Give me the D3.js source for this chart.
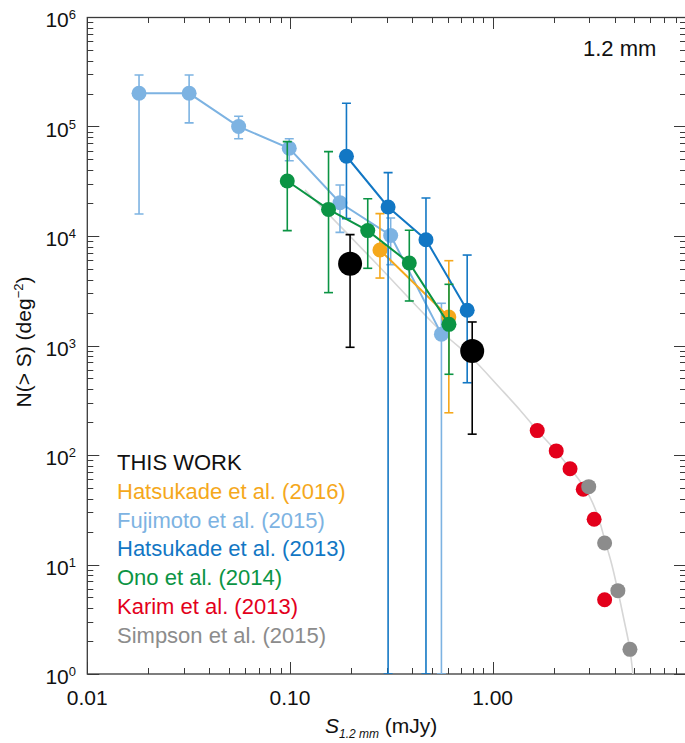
<!DOCTYPE html>
<html>
<head>
<meta charset="utf-8">
<script src="https://cdn.jsdelivr.net/npm/d3@7"></script>
<style>
  html, body { margin: 0; padding: 0; background: #fff; }
  svg { display: block; font-family: "Liberation Sans", Arial, sans-serif; }
</style>
</head>
<body>
<svg id="chart" width="685" height="743"></svg>
<script>
// ---------------- data ----------------
const xTickValues = [0.01, 0.1, 1];
const xTickLabels = ["0.01", "0.10", "1.00"];
const yTickExponents = [0, 1, 2, 3, 4, 5, 6];

const thisWorkS  = [0.198, 0.793];
const thisWorkN  = [5580, 891];
const thisWorkLo = [963, 155];
const thisWorkHi = [10300, 1640];

const hat16S  = [0.278, 0.608];
const hat16N  = [7450, 1820];
const hat16Lo = [4130, 243];
const hat16Hi = [16000, 5950];

const fujS  = [0.018, 0.0318, 0.0558, 0.0992, 0.1765, 0.314, 0.559];
const fujN  = [201000, 201000, 100000, 63200, 20100, 10100, 1270];
const fujLo = [15900, 108000, 77400, 48700, 10800, 5470, 0];
const fujHi = [295000, 295000, 124000, 77400, 29200, 14600, 2430];

const hat13S  = [0.190, 0.305, 0.469, 0.749];
const hat13N  = [53500, 18400, 9250, 2100];
const hat13Lo = [14400, 0, 0, 457];
const hat13Hi = [163000, 37900, 22200, 6700];

const onoS  = [0.097, 0.155, 0.242, 0.388, 0.609];
const onoN  = [31800, 17500, 11200, 5670, 1560];
const onoLo = [11200, 3040, 5070, 2550, 546];
const onoHi = [72700, 58900, 21900, 11300, 3620];

const karimS = [1.66, 2.06, 2.41, 2.80, 3.17, 3.57];
const karimN = [167, 109, 75, 48.6, 25.9, 4.77];

const simpsonS = [2.98, 3.57, 4.15, 4.76];
const simpsonN = [51.4, 15.7, 5.77, 1.68];

const fitS = [0.1186, 0.2567, 0.5687, 0.7904, 1.087, 1.364, 1.654, 2.053, 2.406, 2.696, 3.02, 3.308, 3.58, 3.878, 4.152, 4.44, 4.755, 4.95];
const fitN = [26300, 6040, 1300, 769, 409, 258, 169, 109, 76, 57.9, 41.3, 27.7, 16.7, 9.9, 5.73, 3.18, 1.69, 0.9];

const legendLabels = ["THIS WORK", "Hatsukade et al. (2016)", "Fujimoto et al. (2015)",
  "Hatsukade et al. (2013)", "Ono et al. (2014)", "Karim et al. (2013)", "Simpson et al. (2015)"];
const legendColors = ["#111111", "#f5a81c", "#7db3e2", "#1277c4", "#0b9444", "#e3001b", "#8c8c8c"];

// ---------------- layout ----------------
const svg = d3.select("#chart");
const pLeft = 87.3, pRight = 686, pTop = 17, pBottom = 674;

const x = d3.scaleLog().domain([0.01, 9]).range([pLeft, pRight]);
const y = d3.scaleLog().domain([1, 1e6]).range([pBottom, pTop]);

const defs = svg.append("defs");
defs.append("clipPath").attr("id", "clip")
  .append("rect").attr("x", pLeft).attr("y", pTop).attr("width", pRight - pLeft).attr("height", pBottom - pTop);

const axisColor = "#3a3a3a";

// ---------------- axes (ticks inward on four sides) ----------------
const xMinor = [];
for (let e = -2; e <= 0; e++) for (let m = 1; m <= 9; m++) {
  const v = m * Math.pow(10, e);
  if (v >= 0.01 && v <= 9.0001) xMinor.push(v);
}
const yMinor = [];
for (let e = 0; e < 6; e++) for (let m = 1; m <= 9; m++) yMinor.push(m * Math.pow(10, e));
yMinor.push(1e6);

const tickG = svg.append("g").attr("stroke", axisColor).attr("stroke-width", 1);
const isMajor = v => Math.abs(Math.log10(v) - Math.round(Math.log10(v))) < 1e-9;

xMinor.forEach(v => {
  const len = isMajor(v) ? 12 : 6;
  const px = Math.round(x(v)) + 0.5;
  tickG.append("line").attr("x1", px).attr("x2", px).attr("y1", pBottom).attr("y2", pBottom - len);
  tickG.append("line").attr("x1", px).attr("x2", px).attr("y1", pTop).attr("y2", pTop + len);
});
yMinor.forEach(v => {
  const len = isMajor(v) ? 12 : 6;
  const py = Math.round(y(v)) + 0.5;
  tickG.append("line").attr("x1", pLeft).attr("x2", pLeft + len).attr("y1", py).attr("y2", py);
  tickG.append("line").attr("x1", pRight).attr("x2", pRight - len).attr("y1", py).attr("y2", py);
});

// frame
svg.append("rect").attr("x", pLeft).attr("y", pTop + 0.5).attr("width", pRight - pLeft).attr("height", pBottom - pTop - 0.5)
  .attr("fill", "none").attr("stroke", axisColor).attr("stroke-width", 1.3);

// x tick labels
xTickValues.forEach((v, i) => {
  svg.append("text").attr("x", x(v)).attr("y", pBottom + 31)
    .attr("text-anchor", "middle").attr("font-size", 21).attr("fill", "#111")
    .text(xTickLabels[i]);
});
// y tick labels (10^n)
yTickExponents.forEach(e => {
  const t = svg.append("text").attr("x", 76).attr("y", y(Math.pow(10, e)) + 10)
    .attr("text-anchor", "end").attr("font-size", 21).attr("fill", "#111");
  t.append("tspan").text("10");
  t.append("tspan").attr("font-size", 13).attr("dy", -8).text(String(e));
});

// axis titles
const xt = svg.append("text").attr("x", 325).attr("y", 733).attr("font-size", 21).attr("fill", "#111");
xt.append("tspan").attr("font-style", "italic").text("S");
xt.append("tspan").attr("font-style", "italic").attr("font-size", 12).attr("dy", 5).text("1.2 mm");
xt.append("tspan").attr("dy", -5).text(" (mJy)");

const yt = svg.append("text").attr("transform", "translate(31," + 342 + ") rotate(-90)")
  .attr("text-anchor", "middle").attr("font-size", 21).attr("fill", "#111");
yt.append("tspan").text("N(> S) (deg");
yt.append("tspan").attr("font-size", 13).attr("dy", -8).text("\u22122");
yt.append("tspan").attr("dy", 8).text(")");

// panel label
svg.append("text").attr("x", 583).attr("y", 56).attr("font-size", 22).attr("fill", "#111").text("1.2 mm");

// ---------------- data layer ----------------
const plot = svg.append("g").attr("clip-path", "url(#clip)");

// fit curve
const fitData = fitS.map((s, i) => [s, fitN[i]]);
plot.append("path").datum(fitData)
  .attr("fill", "none").attr("stroke", "#d6d6d6").attr("stroke-width", 1.6)
  .attr("d", d3.line().x(d => x(d[0])).y(d => y(d[1])).curve(d3.curveCatmullRom.alpha(0.5)));

function drawSeries(S, N, Lo, Hi, color, r, connect) {
  const g = plot.append("g");
  const pts = S.map((s, i) => ({ s, n: N[i], lo: Lo ? Lo[i] : null, hi: Hi ? Hi[i] : null }));
  if (connect) {
    g.append("path").datum(pts).attr("fill", "none").attr("stroke", color).attr("stroke-width", 2)
      .attr("d", d3.line().x(d => x(d.s)).y(d => y(d.n)));
  }
  if (Lo) {
    pts.forEach(d => {
      const px = x(d.s);
      const yTop = y(d.hi);
      const yBot = d.lo > 0 ? y(d.lo) : pBottom;
      g.append("line").attr("x1", px).attr("x2", px).attr("y1", yTop).attr("y2", yBot)
        .attr("stroke", color).attr("stroke-width", 1.6);
      [yTop, yBot].forEach(yy => {
        g.append("line").attr("x1", px - 4.5).attr("x2", px + 4.5).attr("y1", yy).attr("y2", yy)
          .attr("stroke", color).attr("stroke-width", 1.6);
      });
    });
  }
  g.selectAll("circle").data(pts).enter().append("circle")
    .attr("cx", d => x(d.s)).attr("cy", d => y(d.n)).attr("r", r).attr("fill", color);
}

drawSeries(fujS, fujN, fujLo, fujHi, legendColors[2], 7.5, true);
drawSeries(hat16S, hat16N, hat16Lo, hat16Hi, legendColors[1], 7.5, true);
drawSeries(hat13S, hat13N, hat13Lo, hat13Hi, legendColors[3], 7.5, true);
drawSeries(onoS, onoN, onoLo, onoHi, legendColors[4], 7.5, true);
drawSeries(thisWorkS, thisWorkN, thisWorkLo, thisWorkHi, "#000000", 12, false);
drawSeries(karimS, karimN, null, null, legendColors[5], 7.5, false);
drawSeries(simpsonS, simpsonN, null, null, legendColors[6], 7.5, false);

// ---------------- legend ----------------
legendLabels.forEach((lab, i) => {
  svg.append("text").attr("x", 117).attr("y", 470 + i * 28.8)
    .attr("font-size", 22).attr("fill", legendColors[i]).text(lab);
});
</script>
</body>
</html>
